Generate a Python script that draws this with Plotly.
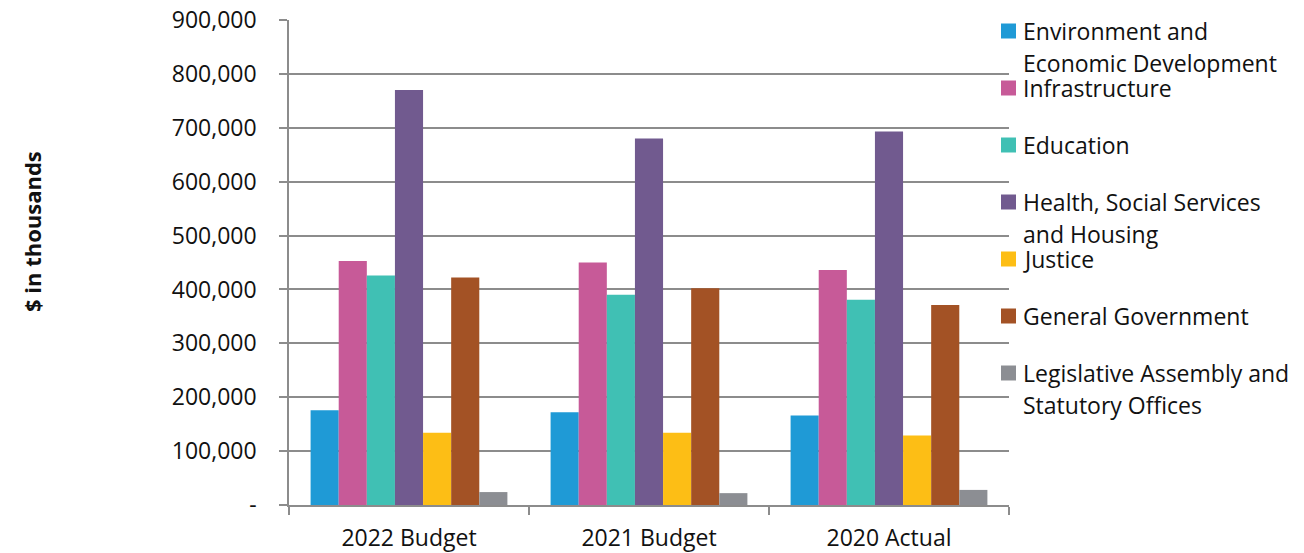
import plotly.graph_objects as go

categories = ["2022 Budget", "2021 Budget", "2020 Actual"]
series_names = [
    "Environment and<br>Economic Development",
    "Infrastructure",
    "Education",
    "Health, Social Services<br>and Housing",
    "Justice",
    "General Government",
    "Legislative Assembly and<br>Statutory Offices",
]
series_values = [
    [176000, 172000, 166000],
    [453000, 450000, 436000],
    [426000, 390000, 381000],
    [770000, 680000, 693000],
    [134000, 134000, 129000],
    [422000, 402000, 371000],
    [24000, 22000, 28000],
]
colors = ["#1F9AD6", "#C75A98", "#40C0B4", "#715A8F", "#FDBE15", "#A35225", "#8C8E93"]
y_tickvals = [0, 100000, 200000, 300000, 400000, 500000, 600000, 700000, 800000, 900000]
y_ticktext = ["-", "100,000", "200,000", "300,000", "400,000", "500,000",
              "600,000", "700,000", "800,000", "900,000"]

FONT = "Open Sans"
TXT = "#111111"
OFF = 8  # default page body margin
W, H = 1304 - OFF, 553 - OFF
L, R, T, B = 289 - OFF, 295, 20 - OFF, 48
PW, PH = W - L - R, H - T - B


def px(x):
    return (x - OFF - L) / PW


def py(y):
    return (H - B - (y - OFF)) / PH


fig = go.Figure()
for name, vals, c in zip(series_names, series_values, colors):
    fig.add_trace(go.Bar(x=categories, y=vals, name=name.replace("<br>", " "),
                         marker_color=c, marker_line_width=0, showlegend=False))

# manual legend
legend_top = 31
step = 57
line_h = 32
for i, (name, c) in enumerate(zip(series_names, colors)):
    yc = legend_top + i * step
    fig.add_shape(type="rect", xref="paper", yref="paper",
                  x0=px(1001), x1=px(1016), y0=py(yc + 7.5), y1=py(yc - 7.5),
                  fillcolor=c, line_width=0)
    for j, line in enumerate(name.split("<br>")):
        fig.add_annotation(xref="paper", yref="paper",
                           x=px(1021), y=py(yc + j * line_h),
                           xanchor="left", yanchor="middle", align="left", showarrow=False,
                           text=line, font=dict(family=FONT, size=23, color=TXT))

fig.add_annotation(xref="paper", yref="paper", x=px(32), y=py(232), textangle=-90,
                   showarrow=False, xanchor="center", yanchor="middle",
                   text="<b>$ in thousands</b>", font=dict(family=FONT, size=22, color=TXT))

fig.update_layout(
    width=W, height=H,
    margin=dict(l=L, r=R, t=T, b=B, pad=0),
    paper_bgcolor="white", plot_bgcolor="white",
    barmode="group", bargap=0.18, bargroupgap=0,
    font=dict(family=FONT, size=23, color=TXT),
)
fig.update_yaxes(range=[0, 900000.01], tickvals=y_tickvals, ticktext=y_ticktext,
                 showgrid=True, gridcolor="#8c8c8c", gridwidth=1.5,
                 showline=True, linecolor="#8c8c8c", linewidth=1.5,
                 ticks="outside", ticklen=8, tickcolor="#8c8c8c", tickwidth=1.5,
                 ticklabelstandoff=18, zeroline=False, automargin=False,
                 ticklabeloverflow="allow",
                 tickfont=dict(family=FONT, size=23, color=TXT))
fig.update_xaxes(showline=True, linecolor="#8c8c8c", linewidth=1.5,
                 ticks="outside", ticklen=8, tickcolor="#8c8c8c", tickwidth=1.5,
                 tickson="boundaries", ticklabelstandoff=12, showgrid=False,
                 automargin=False, ticklabeloverflow="allow",
                 tickfont=dict(family=FONT, size=23, color=TXT))

fig.write_html("out.html")
